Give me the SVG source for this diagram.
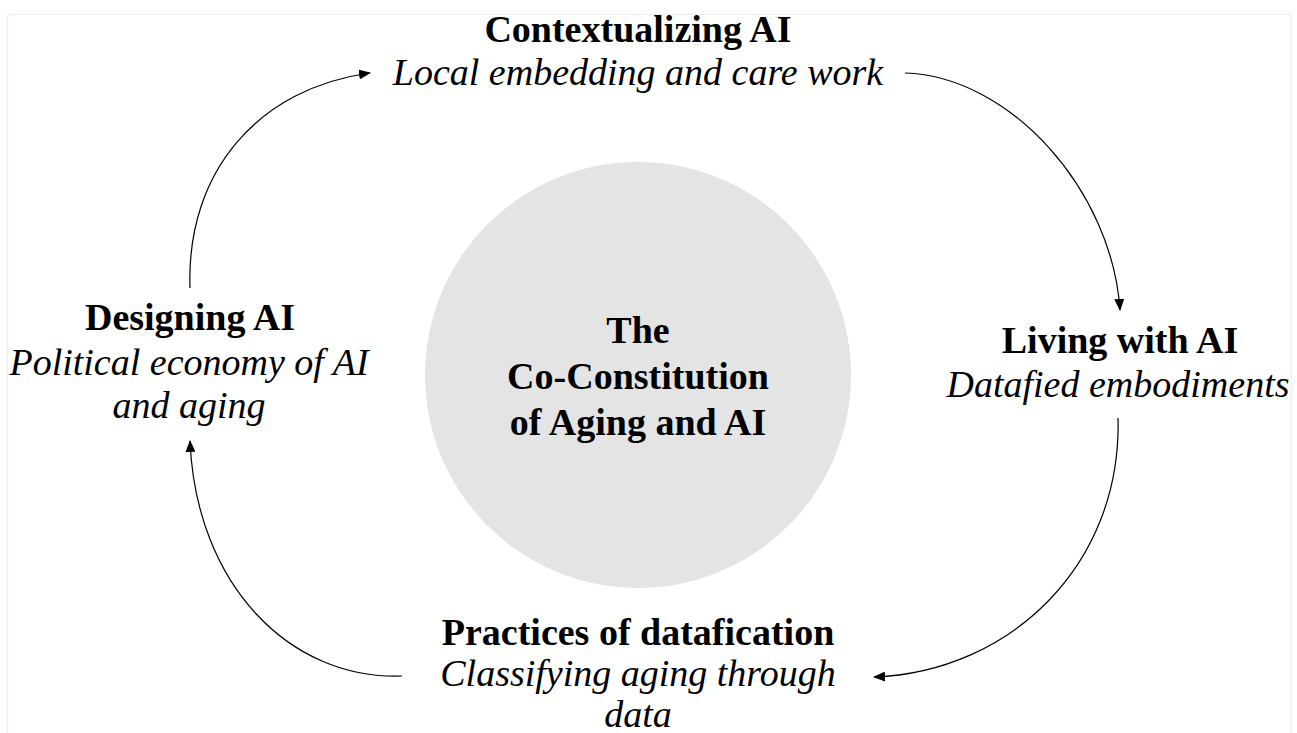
<svg xmlns="http://www.w3.org/2000/svg" width="1297" height="733" viewBox="0 0 1297 733">
<style>
.t{font-family:"Liberation Serif","Times New Roman",serif;font-size:38px;fill:#000;text-anchor:middle}
.b{font-weight:bold}
.i{font-style:italic}
.c{fill:none;stroke:#000;stroke-width:1.2}
</style>
<defs>
<marker id="ah" viewBox="0 0 12 10" refX="11" refY="5" markerWidth="12" markerHeight="10" markerUnits="userSpaceOnUse" orient="auto">
<path d="M0,0 L12,5 L0,10 Z" fill="#000"/>
</marker>
</defs>
<rect x="0" y="0" width="1297" height="733" fill="#fff"/>
<rect x="7.5" y="14.5" width="1284" height="740" fill="#fff" stroke="#f0f0f0" stroke-width="1.5"/>
<g id="center">
<circle cx="638" cy="375" r="213" fill="#e4e4e4"/>
<text class="t b" x="638" y="343">The</text>
<text class="t b" x="638" y="389">Co-Constitution</text>
<text class="t b" x="638" y="435">of Aging and AI</text>
</g>
<g id="contextualizing">
<text class="t b" x="638" y="42">Contextualizing AI</text>
<text class="t i" x="638" y="85">Local embedding and care work</text>
</g>
<g id="living">
<text class="t b" x="1120" y="353">Living with AI</text>
<text class="t i" x="1118" y="397">Datafied embodiments</text>
</g>
<g id="practices">
<text class="t b" x="638" y="645">Practices of datafication</text>
<text class="t i" x="638" y="686">Classifying aging through</text>
<text class="t i" x="638" y="727">data</text>
</g>
<g id="designing">
<text class="t b" x="190" y="330">Designing AI</text>
<text class="t i" x="189" y="375">Political economy of AI</text>
<text class="t i" x="189" y="418">and aging</text>
</g>
<g id="connectors">
<path class="c" d="M190,288 C186,170 260,88 370,73" marker-end="url(#ah)"/>
<path class="c" d="M905,73 C1010,76 1112,190 1120,310" marker-end="url(#ah)"/>
<path class="c" d="M1118,418 C1122,565 1010,672 874,677" marker-end="url(#ah)"/>
<path class="c" d="M402,676 C290,680 196,585 190,441" marker-end="url(#ah)"/>
</g>
</svg>
